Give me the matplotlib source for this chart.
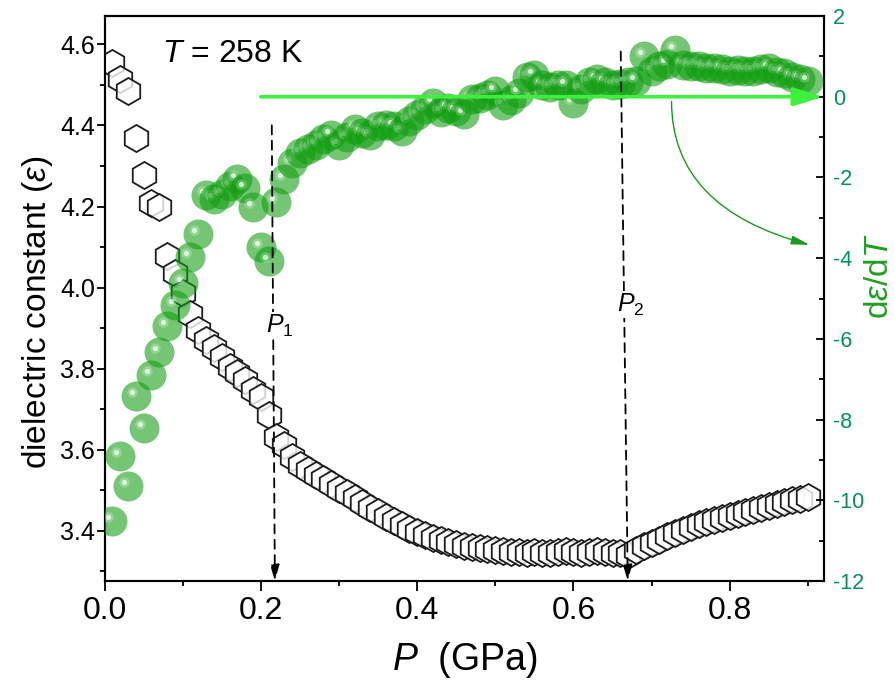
import matplotlib
matplotlib.use("Agg")
import matplotlib.pyplot as plt
from matplotlib.ticker import MultipleLocator, FormatStrFormatter
from matplotlib.transforms import offset_copy

plt.rcParams['font.family'] = ['Liberation Sans', 'DejaVu Sans']
plt.rcParams['mathtext.fontset'] = 'custom'
plt.rcParams['mathtext.rm'] = 'Liberation Sans'
plt.rcParams['mathtext.it'] = 'Liberation Sans:italic'
plt.rcParams['mathtext.bf'] = 'Liberation Sans:bold'
plt.rcParams['axes.unicode_minus'] = False

# ---------------- data ----------------
pressure = [0.01, 0.02, 0.03, 0.04, 0.05, 0.06, 0.07, 0.08, 0.09, 0.10,
            0.11, 0.12, 0.13, 0.14, 0.15, 0.16, 0.17, 0.18, 0.19, 0.20,
            0.21, 0.22, 0.23, 0.24, 0.25, 0.26, 0.27, 0.28, 0.29, 0.30,
            0.31, 0.32, 0.33, 0.34, 0.35, 0.36, 0.37, 0.38, 0.39, 0.40,
            0.41, 0.42, 0.43, 0.44, 0.45, 0.46, 0.47, 0.48, 0.49, 0.50,
            0.51, 0.52, 0.53, 0.54, 0.55, 0.56, 0.57, 0.58, 0.59, 0.60,
            0.61, 0.62, 0.63, 0.64, 0.65, 0.66, 0.67, 0.68, 0.69, 0.70,
            0.71, 0.72, 0.73, 0.74, 0.75, 0.76, 0.77, 0.78, 0.79, 0.80,
            0.81, 0.82, 0.83, 0.84, 0.85, 0.86, 0.87, 0.88, 0.89, 0.90]

dielectric_constant = [4.555, 4.515, 4.485, 4.370, 4.278, 4.209, 4.199, 4.078, 4.036, 3.986,
                       3.935, 3.895, 3.870, 3.850, 3.828, 3.804, 3.789, 3.772, 3.747, 3.730,
                       3.685, 3.631, 3.612, 3.582, 3.562, 3.550, 3.538, 3.527, 3.515, 3.503,
                       3.492, 3.480, 3.469, 3.457, 3.446, 3.434, 3.423, 3.413, 3.405, 3.397,
                       3.389, 3.382, 3.377, 3.372, 3.367, 3.363, 3.360, 3.357, 3.355, 3.352,
                       3.350, 3.348, 3.347, 3.345, 3.348, 3.346, 3.344, 3.347, 3.350, 3.348,
                       3.345, 3.347, 3.350, 3.348, 3.346, 3.344, 3.340, 3.352, 3.362, 3.370,
                       3.378, 3.387, 3.395, 3.403, 3.410, 3.416, 3.421, 3.427, 3.432, 3.437,
                       3.442, 3.446, 3.451, 3.456, 3.461, 3.465, 3.470, 3.475, 3.479, 3.483]

deps_dT = [-10.52, -8.90, -9.65, -7.42, -8.20, -6.90, -6.32, -5.68, -5.17, -4.62,
           -3.98, -3.40, -2.44, -2.54, -2.41, -2.20, -2.04, -2.25, -2.74, -3.73,
           -4.06, -2.62, -2.04, -1.63, -1.40, -1.30, -1.20, -1.05, -0.95, -1.20,
           -1.00, -0.80, -0.90, -0.95, -0.72, -0.70, -0.72, -0.85, -0.60, -0.45,
           -0.30, -0.15, -0.37, -0.28, -0.35, -0.42, -0.05, -0.04, 0.05, 0.13,
           -0.20, -0.09, 0.10, 0.50, 0.55, 0.30, 0.25, 0.28, 0.30, -0.15,
           0.20, 0.37, 0.45, 0.37, 0.30, 0.32, 0.37, 0.40, 1.00, 0.65,
           0.75, 0.80, 1.15, 0.78, 0.75, 0.75, 0.72, 0.70, 0.68, 0.65,
           0.66, 0.65, 0.65, 0.68, 0.70, 0.62, 0.58, 0.50, 0.45, 0.40]

transition_P = [0.216, 0.665]          # P1, P2 (GPa)
transition_names = ['$P_{\\mathit{1}}$', '$P_{\\mathit{2}}$']

# ---------------- figure ----------------
fig = plt.figure(figsize=(8.94, 6.88), dpi=100)
ax = fig.add_axes([0.1169, 0.1555, 0.8043, 0.8212])
ax2 = ax.twinx()

# hexagons (left axis)
ax.plot(pressure, dielectric_constant, linestyle='none', marker='h', ms=19.5,
        mfc=(1, 1, 1, 0.8), mec='#1c1c1c', mew=1.3, zorder=3)

# green spheres (right axis) - each sphere drawn with its highlight, in order
green = '#0f9e0f'
hl_tr = offset_copy(ax2.transData, fig=fig, x=-4, y=4, units='dots')
for p, v in zip(pressure, deps_dT):
    ax2.plot([p], [v], linestyle='none', marker='o', ms=21.6,
             mfc=green, mec='none', alpha=0.58, zorder=3)
    ax2.plot([p], [v], linestyle='none', marker='o', ms=7.5,
             mfc='white', mec='none', alpha=0.25, transform=hl_tr, zorder=3)
    ax2.plot([p], [v], linestyle='none', marker='o', ms=3.8,
             mfc='white', mec='none', alpha=0.7, transform=hl_tr, zorder=3)

# limits & ticks
ax.set_xlim(0, 0.92)
ax.set_ylim(3.276, 4.670)
ax2.set_ylim(-12, 2)

ax.xaxis.set_major_locator(MultipleLocator(0.2))
ax.xaxis.set_minor_locator(MultipleLocator(0.1))
ax.yaxis.set_major_locator(MultipleLocator(0.2))
ax.yaxis.set_minor_locator(MultipleLocator(0.1))
ax2.yaxis.set_major_locator(MultipleLocator(2))
ax2.yaxis.set_minor_locator(MultipleLocator(1))
ax.xaxis.set_major_formatter(FormatStrFormatter('%.1f'))
ax.yaxis.set_major_formatter(FormatStrFormatter('%.1f'))

ax.tick_params(axis='x', which='major', direction='out', length=7.2, width=1.3,
               labelsize=23, pad=3.5, top=False)
ax.tick_params(axis='x', which='minor', direction='out', length=3.6, width=1.3, top=False)
ax.tick_params(axis='y', which='major', direction='out', length=5.8, width=1.3,
               labelsize=18, pad=1, right=False)
ax.tick_params(axis='y', which='minor', direction='out', length=3.6, width=1.3, right=False)
teal = '#00915f'
ax2.tick_params(axis='y', which='major', direction='in', length=5.8, width=1.3,
                labelsize=15.5, pad=7, labelcolor=teal)
ax2.tick_params(axis='y', which='minor', direction='in', length=3.6, width=1.3)

for a in (ax, ax2):
    for s in a.spines.values():
        s.set_linewidth(1.5)

# texts
fig.text(0.0425, 0.5465, 'dielectric constant ($\\varepsilon$)', rotation=90,
         ha='center', va='center', fontsize=24)
fig.text(0.984, 0.598, 'd$\\varepsilon$/d$T$', rotation=90, ha='center', va='center',
         fontsize=24, color='#1fa01f')
fig.text(0.520, 0.040, '$P$  (GPa)', ha='center', va='center', fontsize=27)
ax.text(0.08, 0.9186, '$T$ = 258 K', transform=ax.transAxes, fontsize=23,
        ha='left', va='baseline')

# transition arrows (dashed)
arrow_top = [-0.71, 1.12]
label_y = [-5.84, -5.32]
for xp, top, ly, name, dx in zip(transition_P, arrow_top, label_y, transition_names, [0.002, 0.0045]):
    ax2.annotate('', xy=(xp + dx, -12), xytext=(xp - dx, top),
                 arrowprops=dict(arrowstyle='-|>,head_length=0.95,head_width=0.27',
                                 color='black', lw=1.3, linestyle=(0, (5, 3.5)),
                                 shrinkA=0, shrinkB=0),
                 zorder=6, annotation_clip=False)
    ax2.text(xp - 0.009, ly, name, fontsize=18, ha='left', va='baseline', zorder=10,
             bbox=dict(facecolor='white', edgecolor='none', pad=0.5))

# green zero-line arrow
ax2.annotate('', xy=(0.92, 0), xytext=(0.2, 0),
             arrowprops=dict(arrowstyle='-|>,head_length=1.8,head_width=0.55',
                             color='#3cf03c', lw=2.6, shrinkA=0, shrinkB=0),
             zorder=7, annotation_clip=False)

# curved arrow
ax2.annotate('', xy=(0.902, -3.67), xytext=(0.7255, -0.12),
             arrowprops=dict(arrowstyle='-|>,head_length=1.1,head_width=0.27',
                             color='#1a9a1a', lw=1.0, shrinkA=0, shrinkB=0,
                             connectionstyle='angle3,angleA=90,angleB=-15'),
             zorder=7)

fig.savefig('out.png', dpi=100)
